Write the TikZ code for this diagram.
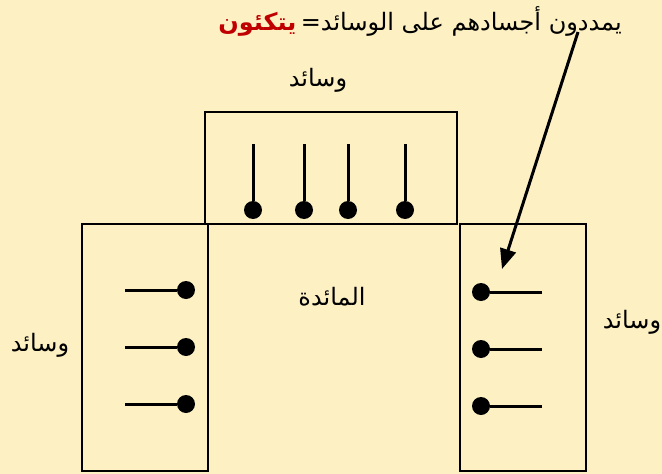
\documentclass[tikz,border=0pt]{standalone}
\usepackage{fontspec}
\usetikzlibrary{arrows.meta}
\newfontfamily\arabicfont[Script = Arabic]{DejaVu Sans}
\TeXXeTstate=1
\definecolor{paper}{RGB}{253,241,196}
\definecolor{darkred}{RGB}{192,0,0}
\tikzset{
    box/.style     = {draw, line width = 2.4pt},
    stick/.style   = {draw, line width = 3pt},
    peg/.style     = {circle, fill, inner sep = 0pt, minimum size = 18pt},
    word/.style    = {font = \arabicfont\fontsize{24}{28}\selectfont, inner sep = 0pt},
}
\begin{document}
\begin{tikzpicture}[x = 1pt, y = -1pt]
                \fill [paper] (0,0) rectangle (662,474);
                \useasboundingbox (0,0) rectangle (662,474);

                % cushions and table
                \draw [box] (205,112) rectangle (457,224);
                \draw [box] (82,224)  rectangle (208,471);
                \draw [box] (460,224) rectangle (586,471);

                % labels
                \node [word, anchor = base east] (title) at (622,30)
                    {\beginR يمددون أجسادهم على الوسائد=\endR};
                \node [word, text = darkred, font = \arabicfont\fontsize{24}{28}\bfseries, anchor = base east] (title verb)
                    at ([xshift = -4pt] title.base west) {\beginR يتكئون\endR};
                \node [word] (top cushion)   at (318,80)  {\beginR وسائد\endR};
                \node [word] (left cushion)  at (40,345)  {\beginR وسائد\endR};
                \node [word] (right cushion) at (632,322) {\beginR وسائد\endR};
                \node [word] (table)         at (332,297) {\beginR المائدة\endR};

                % people lying on the cushions
                \foreach \x [count = \i] in {253, 304, 348, 405} {
                    \coordinate (top head \i) at (\x,144);
                    \node [peg] (top peg \i) at (\x,210) {};
                    \draw [stick] (top head \i) -- (top peg \i);
                }
                \foreach \y [count = \i] in {290, 347, 404} {
                    \coordinate (left head \i) at (125,\y);
                    \node [peg] (left peg \i) at (186,\y) {};
                    \draw [stick] (left head \i) -- (left peg \i);
                }
                \foreach \y [count = \i] in {292, 349, 406} {
                    \coordinate (right head \i) at (542,\y);
                    \node [peg] (right peg \i) at (481,\y) {};
                    \draw [stick] (right head \i) -- (right peg \i);
                }

                % pointer
                \coordinate (pointer start) at (578,32);
                \coordinate (pointer end)   at (502,269);
                \draw [-{Triangle[length = 20pt, width = 16pt]}, line width = 3pt] (pointer start) -- (pointer end);
\end{tikzpicture}
\end{document}
